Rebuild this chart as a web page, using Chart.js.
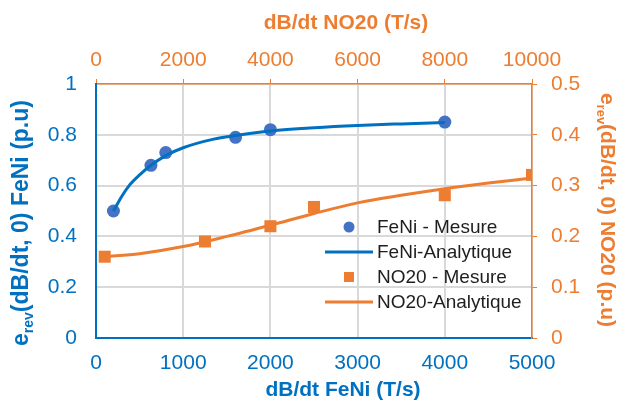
<!DOCTYPE html>
<html>
<head>
<meta charset="utf-8">
<script src="https://cdn.jsdelivr.net/npm/chart.js@4.4.1/dist/chart.umd.min.js"></script>
<style>
  html, body { margin: 0; padding: 0; background: #fff; }
  #wrap { width: 618px; height: 401px; }
</style>
</head>
<body>
<div id="wrap"><canvas id="chart" width="618" height="401"></canvas></div>
<script>
const BLUE = "#0070C0";
const BLUE_MARK = "#4472C4";
const ORANGE = "#ED7D31";
const GRID = "#d9d9d9";
const FONT = "'Liberation Sans', Arial, sans-serif";

// FeNi (bottom / left axes)
const feniX = [200, 630, 800, 1600, 2000, 4000];
const feniY = [0.5, 0.68, 0.73, 0.79, 0.82, 0.85];
const feniCurveX = [200, 300, 380, 500, 630, 800, 1000, 1350, 1600, 2000, 2500, 3000, 3500, 4000];
const feniCurveY = [0.5, 0.56, 0.6, 0.642, 0.68, 0.718, 0.749, 0.783, 0.797, 0.815, 0.828, 0.837, 0.843, 0.848];

// NO20 (top / right axes)
const no20X = [200, 2500, 4000, 5000, 8000, 10000];
const no20Y = [0.16, 0.19, 0.22, 0.258, 0.281, 0.321];
const no20CurveX = [200, 1000, 2000, 3000, 4000, 5000, 6000, 7000, 8000, 9000, 10000];
const no20CurveY = [0.16, 0.166, 0.18, 0.2, 0.222, 0.245, 0.266, 0.281, 0.294, 0.305, 0.315];

const seriesNames = ["FeNi - Mesure", "FeNi-Analytique", "NO20 - Mesure", "NO20-Analytique"];

const xTitle = "dB/dt FeNi (T/s)";
const x2Title = "dB/dt NO20 (T/s)";
const yTitle = ["e", "rev", "(dB/dt, 0) FeNi (p.u)"];
const y2Title = ["e", "rev", "(dB/dt, 0) NO20 (p.u)"];

const pts = (xs, ys) => xs.map((x, i) => ({ x, y: ys[i] }));
const fmt = (v) => String(Number(v.toFixed(2)));

function drawSubTitle(ctx, parts, cx, cy, angle, color, size) {
  const big = "bold " + size + "px " + FONT;
  const small = "bold " + Math.round(size * 0.62) + "px " + FONT;
  ctx.save();
  ctx.font = big;
  const w1 = ctx.measureText(parts[0]).width;
  const w3 = ctx.measureText(parts[2]).width;
  ctx.font = small;
  const w2 = ctx.measureText(parts[1]).width;
  const total = w1 + w2 + w3;
  ctx.translate(cx, cy);
  ctx.rotate(angle);
  ctx.fillStyle = color;
  ctx.textBaseline = "middle";
  ctx.textAlign = "left";
  let x = -total / 2;
  ctx.font = big;
  ctx.fillText(parts[0], x, 0);
  x += w1;
  ctx.font = small;
  ctx.fillText(parts[1], x, size * 0.3);
  x += w2;
  ctx.font = big;
  ctx.fillText(parts[2], x, 0);
  ctx.restore();
}

const overlay = {
  id: "overlay",
  afterDraw(chart) {
    const ctx = chart.ctx;
    ctx.save();
    ctx.textAlign = "center";
    ctx.textBaseline = "middle";
    ctx.font = "bold 21px " + FONT;
    ctx.fillStyle = BLUE;
    ctx.fillText(xTitle, 343, 390);
    ctx.fillStyle = ORANGE;
    ctx.fillText(x2Title, 346, 23);
    ctx.restore();

    drawSubTitle(ctx, yTitle, 22, 223, -Math.PI / 2, BLUE, 23);
    drawSubTitle(ctx, y2Title, 607, 210, Math.PI / 2, ORANGE, 21);

    // legend
    const rows = [227, 252, 277, 302];
    ctx.save();
    ctx.font = "19px " + FONT;
    ctx.textBaseline = "middle";
    ctx.textAlign = "left";
    rows.forEach((y, i) => {
      if (i === 0) {
        ctx.fillStyle = BLUE_MARK;
        ctx.beginPath();
        ctx.arc(349, y, 5.5, 0, Math.PI * 2);
        ctx.fill();
      } else if (i === 2) {
        ctx.fillStyle = ORANGE;
        ctx.fillRect(344, y - 5, 10, 10);
      } else {
        ctx.strokeStyle = i === 1 ? BLUE : ORANGE;
        ctx.lineWidth = 3;
        ctx.beginPath();
        ctx.moveTo(325, y);
        ctx.lineTo(373, y);
        ctx.stroke();
      }
      ctx.fillStyle = "#1e1e1e";
      ctx.fillText(seriesNames[i], 377, y + 1);
    });
    ctx.restore();
  },
};

const tickFont = { family: FONT, size: 21 };

new Chart(document.getElementById("chart"), {
  type: "scatter",
  data: {
    datasets: [
      {
        label: seriesNames[1],
        data: pts(feniCurveX, feniCurveY),
        showLine: true,
        borderColor: BLUE,
        borderWidth: 3,
        pointRadius: 0,
        cubicInterpolationMode: "monotone",
        xAxisID: "x",
        yAxisID: "y",
        order: 1,
      },
      {
        label: seriesNames[3],
        data: pts(no20CurveX, no20CurveY),
        showLine: true,
        borderColor: ORANGE,
        borderWidth: 3,
        pointRadius: 0,
        cubicInterpolationMode: "monotone",
        xAxisID: "x2",
        yAxisID: "y2",
        order: 1,
      },
      {
        label: seriesNames[0],
        data: pts(feniX, feniY),
        pointStyle: "circle",
        pointRadius: 6.5,
        backgroundColor: BLUE_MARK,
        borderWidth: 0,
        xAxisID: "x",
        yAxisID: "y",
        order: 2,
      },
      {
        label: seriesNames[2],
        data: pts(no20X, no20Y),
        pointStyle: "rect",
        pointRadius: 8.5,
        backgroundColor: ORANGE,
        borderWidth: 0,
        xAxisID: "x2",
        yAxisID: "y2",
        order: 2,
      },
    ],
  },
  options: {
    responsive: false,
    animation: false,
    layout: { padding: 0 },
    plugins: { legend: { display: false }, tooltip: { enabled: false } },
    scales: {
      x: {
        type: "linear",
        position: "bottom",
        min: 0,
        max: 5000,
        ticks: { stepSize: 1000, color: BLUE, font: tickFont, padding: 13, callback: fmt },
        grid: { color: GRID, lineWidth: 2, drawTicks: false },
        border: { color: BLUE, width: 2 },
        afterFit(s) { s.height = 63; },
      },
      x2: {
        type: "linear",
        position: "top",
        min: 0,
        max: 10000,
        ticks: { stepSize: 2000, color: ORANGE, font: tickFont, padding: 6, callback: fmt },
        grid: { drawOnChartArea: false, tickLength: 5, tickColor: ORANGE },
        border: { color: ORANGE, width: 1.5 },
        afterFit(s) { s.height = 84; },
      },
      y: {
        type: "linear",
        position: "left",
        min: 0,
        max: 1,
        ticks: { stepSize: 0.2, color: BLUE, font: tickFont, padding: 19, callback: fmt },
        grid: { color: GRID, lineWidth: 2, drawTicks: false },
        border: { color: BLUE, width: 2 },
        afterFit(s) { s.width = 96; },
      },
      y2: {
        type: "linear",
        position: "right",
        min: 0,
        max: 0.5,
        ticks: { stepSize: 0.1, color: ORANGE, font: tickFont, padding: 14, callback: fmt },
        grid: { drawOnChartArea: false, tickLength: 5, tickColor: ORANGE },
        border: { color: ORANGE, width: 1.5 },
        afterFit(s) { s.width = 86; },
      },
    },
  },
  plugins: [overlay],
});
</script>
</body>
</html>
